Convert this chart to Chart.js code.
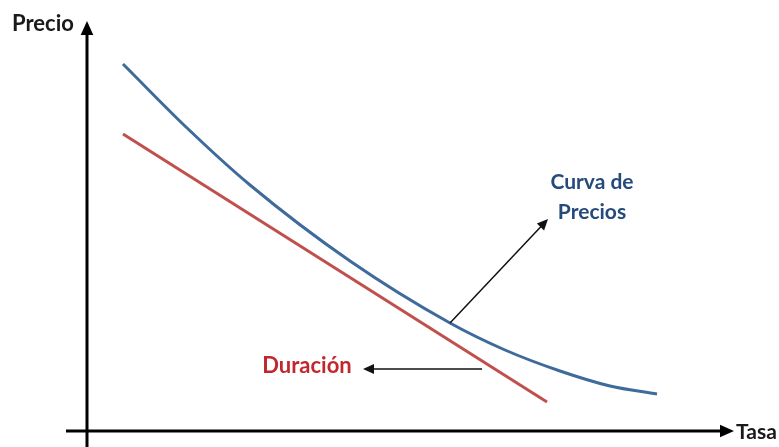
<!DOCTYPE html>
<html>
<head>
<meta charset="utf-8">
<script src="https://cdn.jsdelivr.net/npm/chart.js@4"></script>
<style>
  html, body { margin: 0; padding: 0; background: #fff; }
  #wrap { width: 779px; height: 447px; }
</style>
</head>
<body>
<div id="wrap"><canvas id="chart" width="779" height="447"></canvas></div>
<script>
// Curva de precios (tasa -> precio), unidades arbitrarias
const tasaCurva = [36, 99, 163, 263, 363, 418, 473, 523, 570];
const precioCurva = [367, 304, 246, 170, 108, 81, 60, 45, 37];

// Recta de duración (tangente aproximada)
const tasaDuracion = [36, 460];
const precioDuracion = [297, 29];

// rango de los ejes
const ejeX = { min: -87, max: 692 };
const ejeY = { min: -16, max: 431 };

const toPoints = (xs, ys) => xs.map((x, i) => ({ x: x, y: ys[i] }));

const AZUL = "#3e6a9c";
const ROJO = "#c0504d";

function flecha(ctx, x1, y1, x2, y2, size, width) {
  const ang = Math.atan2(y2 - y1, x2 - x1);
  ctx.beginPath();
  ctx.lineWidth = width;
  ctx.moveTo(x1, y1);
  ctx.lineTo(x2 - Math.cos(ang) * size * 0.8, y2 - Math.sin(ang) * size * 0.8);
  ctx.stroke();
  ctx.beginPath();
  ctx.moveTo(x2, y2);
  ctx.lineTo(x2 - size * Math.cos(ang) + size * 0.45 * Math.sin(ang), y2 - size * Math.sin(ang) - size * 0.45 * Math.cos(ang));
  ctx.lineTo(x2 - size * Math.cos(ang) - size * 0.45 * Math.sin(ang), y2 - size * Math.sin(ang) + size * 0.45 * Math.cos(ang));
  ctx.closePath();
  ctx.fill();
}

const dibujoExtra = {
  id: "dibujoExtra",
  beforeDatasetsDraw(chart) {
    const { ctx, scales: { x, y } } = chart;
    ctx.save();
    ctx.strokeStyle = "#000";
    ctx.fillStyle = "#000";
    // ejes con flecha
    flecha(ctx, x.getPixelForValue(0), y.getPixelForValue(-16), x.getPixelForValue(0), y.getPixelForValue(410), 14, 3);
    flecha(ctx, x.getPixelForValue(-21), y.getPixelForValue(0), x.getPixelForValue(647), y.getPixelForValue(0), 14, 3);
    ctx.restore();
  },
  afterDatasetsDraw(chart) {
    const { ctx, scales: { x, y } } = chart;
    ctx.save();
    ctx.strokeStyle = "#111";
    ctx.fillStyle = "#111";
    flecha(ctx, x.getPixelForValue(363), y.getPixelForValue(108), x.getPixelForValue(461), y.getPixelForValue(212), 11, 1.5);
    flecha(ctx, x.getPixelForValue(395), y.getPixelForValue(62), x.getPixelForValue(276), y.getPixelForValue(62), 11, 1.5);

    ctx.textBaseline = "middle";
    ctx.font = "bold 22px Lato";
    ctx.fillStyle = "#1a1a1a";
    ctx.textAlign = "left";
    ctx.fillText("Precio", 12, 24);
    ctx.font = "bold 21px Lato";
    ctx.fillText("Tasa", x.getPixelForValue(649), y.getPixelForValue(-1));

    ctx.font = "bold 21px Lato";
    ctx.textAlign = "center";
    ctx.fillStyle = "#254a7c";
    ctx.fillText("Curva de", x.getPixelForValue(505), y.getPixelForValue(249));
    ctx.fillText("Precios", x.getPixelForValue(505), y.getPixelForValue(219));
    ctx.font = "bold 22px Lato";
    ctx.fillStyle = "#c0282e";
    ctx.fillText("Duración", x.getPixelForValue(220), y.getPixelForValue(65));
    ctx.restore();
  }
};

new Chart(document.getElementById("chart").getContext("2d"), {
  type: "scatter",
  data: {
    datasets: [{
      label: "Curva de Precios",
      data: toPoints(tasaCurva, precioCurva),
      showLine: true,
      borderColor: AZUL,
      borderWidth: 3,
      pointRadius: 0,
      cubicInterpolationMode: "monotone",
      clip: false
    }, {
      label: "Duración",
      data: toPoints(tasaDuracion, precioDuracion),
      showLine: true,
      borderColor: ROJO,
      borderWidth: 3,
      pointRadius: 0,
      clip: false
    }]
  },
  options: {
    responsive: false,
    animation: false,
    layout: { padding: 0 },
    plugins: { legend: { display: false }, tooltip: { enabled: false } },
    scales: {
      x: { type: "linear", display: false, min: ejeX.min, max: ejeX.max },
      y: { type: "linear", display: false, min: ejeY.min, max: ejeY.max }
    }
  },
  plugins: [dibujoExtra]
});
</script>
</body>
</html>
